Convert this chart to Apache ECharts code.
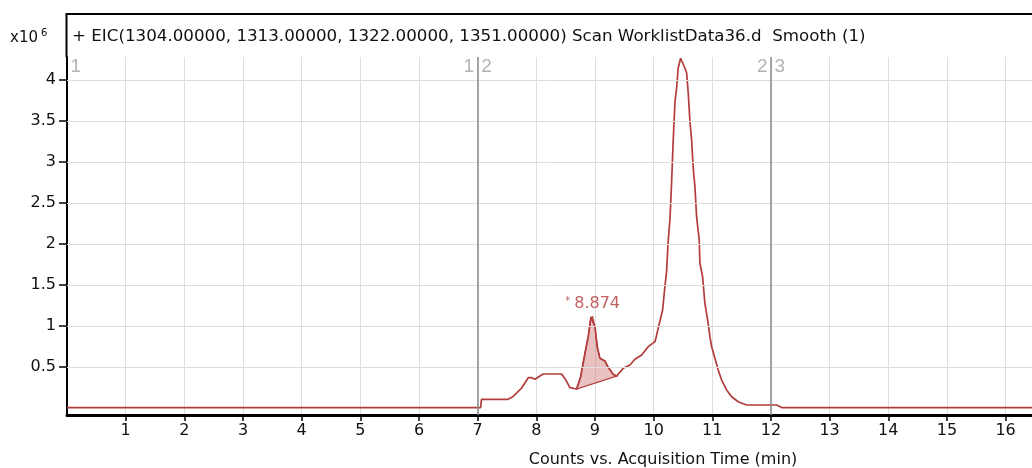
<!DOCTYPE html>
<html><head><meta charset="utf-8">
<script src="https://cdn.jsdelivr.net/npm/echarts@6/dist/echarts.min.js"></script>
<style>html,body{margin:0;padding:0;background:#fff}#c{width:1032px;height:468px}</style>
</head><body><div id="c"></div>
<script>
const titleText = '+ EIC(1304.00000, 1313.00000, 1322.00000, 1351.00000) Scan WorklistData36.d  Smooth (1)';
const xAxisTitle = 'Counts vs. Acquisition Time (min)';
const yScaleLabel = 'x10';
const yScaleExp = '6';

// acquisition time (min)
const times = [0, 7.051, 7.065, 7.517, 7.602, 7.750, 7.863, 7.921, 7.977, 8.062, 8.118, 8.432, 8.505, 8.573, 8.688,
  8.756, 8.829, 8.885, 8.931, 8.960, 9.000, 9.039, 9.085, 9.170, 9.226, 9.311, 9.369,
  9.482, 9.596, 9.681, 9.796, 9.908, 10.022, 10.039, 10.078, 10.119, 10.153, 10.192, 10.221, 10.249, 10.278,
  10.307, 10.334, 10.363, 10.392, 10.419, 10.460, 10.494, 10.533, 10.563, 10.590, 10.619, 10.648, 10.675, 10.704,
  10.733, 10.777, 10.789, 10.835, 10.874, 10.930, 10.960, 10.989, 11.045, 11.101, 11.159, 11.244, 11.330, 11.442,
  11.585, 12.096, 12.182, 16.45];
// counts (x10^6)
const counts = [0.005, 0.005, 0.106, 0.106, 0.138, 0.244, 0.370, 0.370, 0.350, 0.390, 0.415, 0.415, 0.341, 0.248, 0.232,
  0.382, 0.667, 0.870, 1.106, 1.113, 0.991, 0.748, 0.606, 0.573, 0.496, 0.411, 0.390,
  0.484, 0.524, 0.594, 0.646, 0.748, 0.809, 0.850, 0.972, 1.094, 1.195, 1.479, 1.662, 2.049, 2.293,
  2.760, 3.268, 3.720, 3.902, 4.146, 4.265, 4.265, 4.146, 4.085, 3.841, 3.491, 3.268, 2.923, 2.699,
  2.330, 2.049, 1.765, 1.601, 1.277, 1.033, 0.870, 0.748, 0.606, 0.463, 0.341, 0.220, 0.138, 0.077,
  0.037, 0.037, 0.005, 0.005];

const xTicks = [1, 2, 3, 4, 5, 6, 7, 8, 9, 10, 11, 12, 13, 14, 15, 16];
const yTicks = [0.5, 1, 1.5, 2, 2.5, 3, 3.5, 4];
const segmentBoundaries = [7, 12];
const segmentLabels = ['1', '2', '3'];
const peakRange = [8.688, 9.369];
const peakLabel = '8.874';
const xMin = 0, xMax = 16.45, yMin = -0.085, yMax = 4.28;

const FONT = 'DejaVu Sans';
const RED = '#b23c3b';

const curve = times.map((t, i) => [t, counts[i]]);
const peakPts = curve.filter(p => p[0] >= peakRange[0] && p[0] <= peakRange[1]);
const apex = peakPts.reduce((a, b) => (b[1] > a[1] ? b : a));

const segLabelData = [{ value: [xMin, yMax], side: 'right', text: segmentLabels[0] }];
segmentBoundaries.forEach((b, i) => {
  segLabelData.push({ value: [b, yMax], side: 'left', text: segmentLabels[i] });
  segLabelData.push({ value: [b, yMax], side: 'right', text: segmentLabels[i + 1] });
});

const chart = echarts.init(document.getElementById('c'), null, { renderer: 'canvas' });
chart.setOption({
  animation: false,
  backgroundColor: '#fff',
  grid: { left: 67, right: 0, top: 57, bottom: 53, containLabel: false },
  xAxis: {
    type: 'value', min: xMin, max: xMax, interval: 1,
    axisLine: { show: true, onZero: false, lineStyle: { color: '#000', width: 3 } },
    axisTick: { show: true, customValues: xTicks, length: 6, lineStyle: { color: '#000', width: 1.5 } },
    axisLabel: { customValues: xTicks, margin: 8, fontFamily: FONT, fontSize: 16, color: '#111' },
    splitLine: { show: true, lineStyle: { color: '#dedede', width: 1 } }
  },
  yAxis: {
    type: 'value', min: yMin, max: yMax,
    axisLine: { show: true, onZero: false, lineStyle: { color: '#000', width: 2 } },
    axisTick: { show: true, customValues: yTicks, length: 8, lineStyle: { color: '#000', width: 1.5 } },
    axisLabel: { customValues: yTicks, margin: 11, fontFamily: FONT, fontSize: 16, color: '#111' },
    splitLine: { show: false }
  },
  graphic: [
    { type: 'polyline', shape: { points: [[66.5, 57], [66.5, 14], [1040, 14]] }, style: { stroke: '#000', lineWidth: 2, fill: null }, z: 10 },
    { type: 'text', x: 72, y: 37, style: { text: titleText, font: '16.7px "DejaVu Sans"', fill: '#111', verticalAlign: 'middle' } },
    { type: 'text', x: 10, y: 38, style: { text: yScaleLabel, font: '15px "DejaVu Sans"', fill: '#111', verticalAlign: 'middle' } },
    { type: 'text', x: 41, y: 33, style: { text: yScaleExp, font: '10px "DejaVu Sans"', fill: '#111', verticalAlign: 'middle' } },
    { type: 'text', x: 663, y: 460, style: { text: xAxisTitle, font: '16px "DejaVu Sans"', fill: '#111', align: 'center', verticalAlign: 'middle' } }
  ],
  series: [
    {
      name: 'hgrid', type: 'line', data: [], z: 1, silent: true,
      markLine: {
        silent: true, symbol: ['none', 'none'], label: { show: false },
        lineStyle: { color: '#dedede', width: 1, type: 'solid' },
        data: yTicks.map(v => ({ yAxis: v }))
      }
    },
    {
      name: 'segments', type: 'line', data: [], z: 5, silent: true,
      markLine: {
        silent: true, symbol: ['none', 'none'], label: { show: false },
        lineStyle: { color: '#8a8a8a', width: 1.5, type: 'solid' },
        data: segmentBoundaries.map(v => ({ xAxis: v }))
      }
    },
    {
      name: 'peakArea', type: 'custom', z: 2, silent: true, data: [0],
      renderItem: (params, api) => ({
        type: 'polygon',
        shape: { points: peakPts.map(p => api.coord(p)) },
        style: { fill: 'rgba(200,100,100,0.4)', stroke: RED, lineWidth: 1.2 }
      })
    },
    {
      name: 'EIC', type: 'line', data: curve, z: 3, showSymbol: false, clip: false,
      lineStyle: { color: RED, width: 1.7 }
    },
    {
      name: 'apex', type: 'scatter', z: 6, silent: true, symbolSize: 1,
      itemStyle: { color: 'transparent' },
      data: [apex],
      label: {
        show: true, position: 'top', distance: 4,
        formatter: '{a|*}{b|' + peakLabel + '}',
        rich: {
          a: { fontFamily: FONT, fontSize: 10, color: '#b03a3a', padding: [0, 4, 6, 0] },
          b: { fontFamily: FONT, fontSize: 16, color: '#b03a3a' }
        }
      }
    },
    {
      name: 'segLabels', type: 'scatter', z: 6, silent: true, symbolSize: 1,
      itemStyle: { color: 'transparent' },
      data: segLabelData.map(d => ({
        value: d.value,
        label: {
          show: true, formatter: d.text,
          position: d.side === 'left' ? [-3, 1] : [4, 1],
          align: d.side === 'left' ? 'right' : 'left', verticalAlign: 'top',
          fontFamily: 'Liberation Sans', fontSize: 19, color: '#a0a0a0'
        }
      }))
    }
  ]
});
</script>
</body></html>
